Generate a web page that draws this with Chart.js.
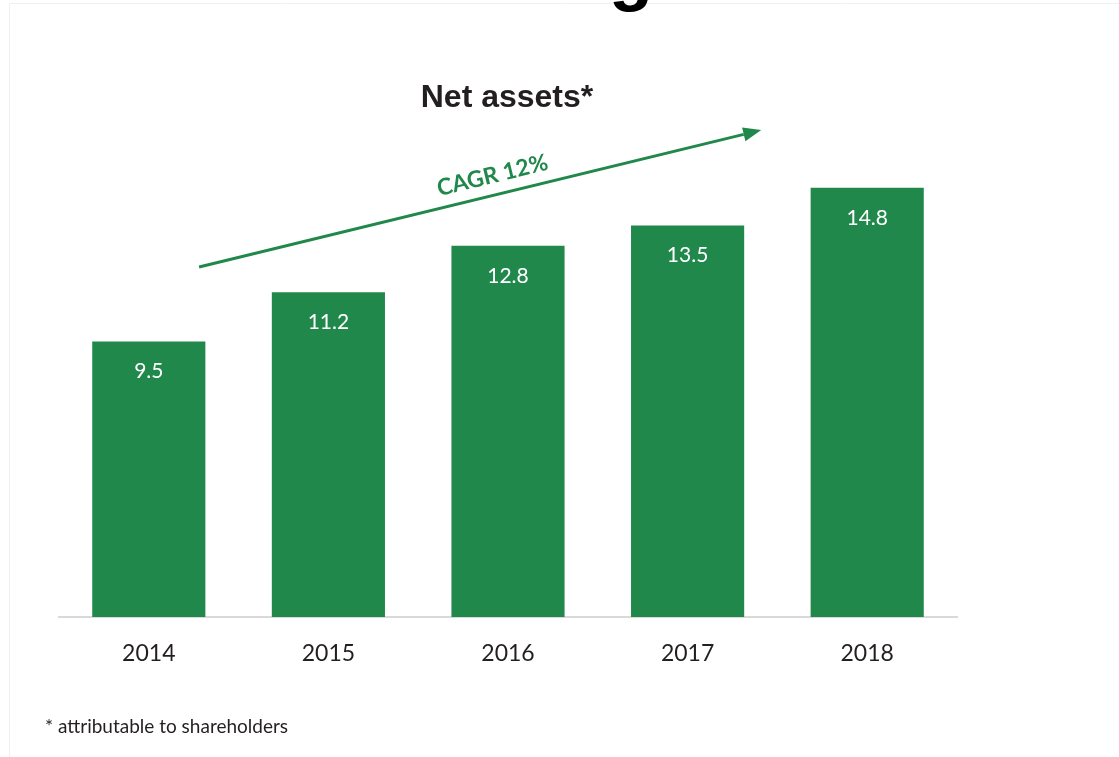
<!DOCTYPE html>
<html>
<head>
<meta charset="utf-8">
<script src="https://cdn.jsdelivr.net/npm/chart.js@4"></script>
<style>
  html, body { margin: 0; padding: 0; background: #fff; }
  #wrap { width: 1119px; height: 757px; position: relative; }
</style>
</head>
<body>
<div id="wrap"><canvas id="myChart" width="1119" height="757"></canvas></div>
<script>
const years = ['2014', '2015', '2016', '2017', '2018'];
const netAssets = [9.5, 11.2, 12.8, 13.5, 14.8];
const titleText = 'Net assets*';
const cagrText = 'CAGR 12%';
const footnote = '* attributable to shareholders';
// arrow from/to in (category index, value)
const arrowFrom = [0.28, 12.07];
const arrowTo = [3.41, 16.79];

const green = '#21884c';

// draws title, footnote, the CAGR arrow and the value labels
const extras = {
  id: 'extras',
  afterDatasetsDraw(chart) {
    const c = chart.ctx;
    const x = chart.scales.x, y = chart.scales.y;
    c.save();

    // faint page frame
    c.strokeStyle = '#f0f0f0';
    c.lineWidth = 1;
    c.beginPath();
    c.moveTo(9.5, 757); c.lineTo(9.5, 3.5); c.lineTo(1119, 3.5);
    c.stroke();

    // cut-off heading letter at the very top
    c.fillStyle = '#000';
    c.font = 'bold 72px "Liberation Sans", Arial, sans-serif';
    c.textAlign = 'left';
    c.textBaseline = 'alphabetic';
    c.fillText('g', 609, -3);

    c.fillStyle = '#231f20';
    c.font = 'bold 32px "Liberation Sans", Arial, sans-serif';
    c.textAlign = 'center';
    c.textBaseline = 'middle';
    c.fillText(titleText, 507, 98);

    c.font = '19px Lato, sans-serif';
    c.textAlign = 'left';
    c.fillText(footnote, 45, 727);

    // value labels inside the bars
    const meta = chart.getDatasetMeta(0);
    c.fillStyle = '#fff';
    c.font = '21px Lato, sans-serif';
    c.textAlign = 'center';
    meta.data.forEach((bar, i) => {
      c.fillText(String(netAssets[i]), bar.x, bar.y + 30);
    });

    // CAGR arrow
    const x1 = x.getPixelForValue(arrowFrom[0]), y1 = y.getPixelForValue(arrowFrom[1]);
    const x2 = x.getPixelForValue(arrowTo[0]), y2 = y.getPixelForValue(arrowTo[1]);
    const ang = Math.atan2(y2 - y1, x2 - x1);
    const head = 18;
    c.strokeStyle = green;
    c.fillStyle = green;
    c.lineWidth = 3;
    c.beginPath();
    c.moveTo(x1, y1);
    c.lineTo(x2 - head * Math.cos(ang), y2 - head * Math.sin(ang));
    c.stroke();
    c.beginPath();
    c.moveTo(x2, y2);
    c.lineTo(x2 - head * Math.cos(ang) + 7 * Math.sin(ang), y2 - head * Math.sin(ang) - 7 * Math.cos(ang));
    c.lineTo(x2 - head * Math.cos(ang) - 7 * Math.sin(ang), y2 - head * Math.sin(ang) + 7 * Math.cos(ang));
    c.closePath();
    c.fill();

    // label along the arrow
    const t = 0.53;
    const mx = x1 + (x2 - x1) * t, my = y1 + (y2 - y1) * t;
    c.translate(mx, my);
    c.rotate(ang);
    c.font = 'bold 23px Lato, sans-serif';
    c.textAlign = 'center';
    c.textBaseline = 'alphabetic';
    c.fillText(cagrText, 0, -12);
    c.restore();
  }
};

const ctx = document.getElementById('myChart');

const myChart = new Chart(ctx, {
  type: 'bar',
  data: {
    labels: years,
    datasets: [{
      label: 'Net assets',
      data: netAssets,
      backgroundColor: green,
      borderWidth: 0,
      barPercentage: 0.63,
      categoryPercentage: 1
    }]
  },
  options: {
    responsive: false,
    animation: false,
    events: [],
    layout: { padding: { left: 59, right: 162, top: 95, bottom: 0 } },
    plugins: {
      legend: { display: false },
      tooltip: { enabled: false }
    },
    scales: {
      x: {
        grid: { display: false },
        border: { display: true, color: '#d9d9d9', width: 2 },
        ticks: { color: '#231f20', font: { family: 'Lato', size: 23 }, padding: 15 },
        afterFit(scale) { scale.height = 140; }
      },
      y: {
        display: false,
        min: 0,
        max: 18
      }
    }
  },
  plugins: [extras]
});
</script>
</body>
</html>
